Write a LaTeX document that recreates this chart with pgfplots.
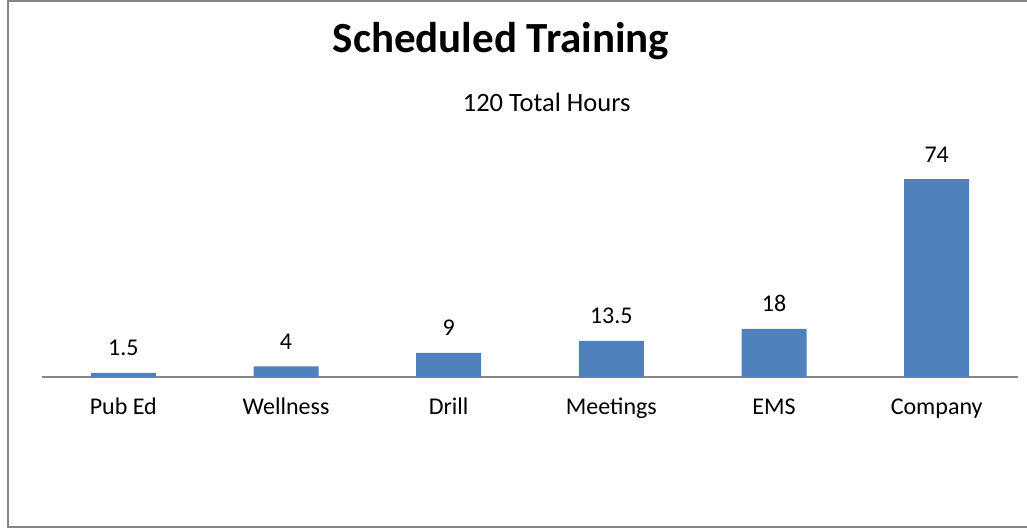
\documentclass[border=0pt]{standalone}
\usepackage{fontspec}
\setmainfont{Carlito}
\usepackage{pgfplots}
\pgfplotsset{compat=1.18}
\definecolor{barblue}{HTML}{4F81BD}
\definecolor{axgray}{HTML}{868686}
\begin{document}
\begin{tikzpicture}[x=1pt,y=1pt]
\useasboundingbox (0,0) rectangle (1027,-529);
\draw[axgray, line width=1.5pt] (1040,-1) -- (8,-1) -- (8,-527) -- (1040,-527);
\node[font=\bfseries\fontsize{43}{48}\selectfont, anchor=base, inner sep=0pt] at (501,-53) {Scheduled Training};
\node[font=\fontsize{26.5}{31}\selectfont, anchor=base, inner sep=0pt] at (546.7,-112) {120 Total Hours};
\begin{axis}[
  at={(42pt,-377pt)}, anchor=south west,
  width=976pt, height=214pt, scale only axis,
  xmin=-0.5, xmax=5.5, ymin=0, ymax=80,
  clip=false,
  axis x line*=bottom, axis y line=none,
  x axis line style={axgray, line width=1.5pt, -},
  xtick=data, major tick length=0pt,
  xticklabels={Pub Ed, Wellness, Drill, Meetings, EMS, Company},
  xticklabel style={font=\fontsize{24}{29}\selectfont, anchor=base, yshift=-37pt, inner sep=0pt},
  ybar, bar width=65pt,
  /pgf/number format/assume math mode=true,
  nodes near coords,
  every node near coord/.append style={font=\fontsize{24}{29}\selectfont, anchor=base, yshift=17pt, inner sep=0pt, text=black},
]
\addplot[fill=barblue, draw=none] coordinates {(0,1.5) (1,4) (2,9) (3,13.5) (4,18) (5,74)};
\end{axis}
\end{tikzpicture}
\end{document}
